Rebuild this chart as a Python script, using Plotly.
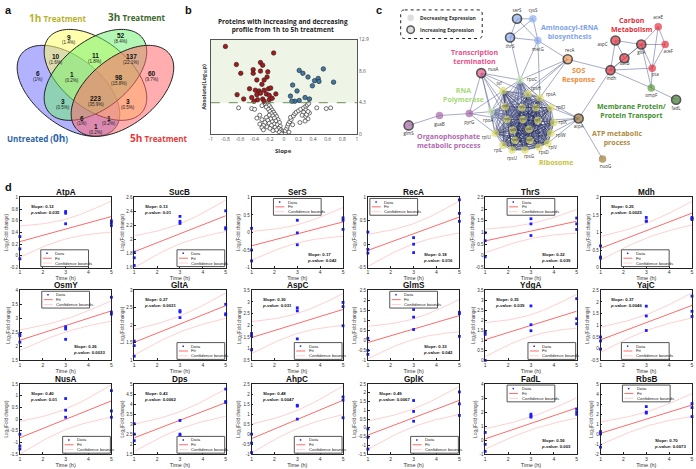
import numpy as np
import plotly.graph_objects as go
from itertools import combinations

W, H = 696, 469
FONT = "Liberation Sans"
FONT2 = "Open Sans"

def P(x):
    return x / W

def Q(y):
    return 1 - y / H

# ---------------- Panel a : Venn ----------------
venn_set_names = ["Untreated (0h)", "1h Treatment", "3h Treatment", "5h Treatment"]
venn_counts = ["9", "52", "10", "11", "137", "6", "1", "98", "60", "223", "3", "3", "6", "1", "1"]
venn_pcts = ["(1.4%)", "(8.4%)", "(1.6%)", "(1.8%)", "(22.1%)", "(1%)", "(0.2%)", "(15.8%)",
             "(9.7%)", "(35.9%)", "(0.5%)", "(0.5%)", "(1%)", "(0.2%)", "(0.2%)"]
venn_lab_x = [67.7, 120, 54.5, 94, 130, 36, 70, 118, 151, 94.3, 61, 127, 80, 108, 94.3]
venn_lab_y = [37, 35, 57, 56, 57, 74, 75, 78, 74, 99, 102, 102, 119, 119, 128]

# ---------------- Panel b : slope vs significance ----------------
red_slope = [-0.80, -0.14, -0.65, -0.32, -0.29, -0.59, -0.42, -0.42, -0.32, -0.22, -0.23, -0.37,
             -0.27, -0.30, -0.47, -0.39, -0.34, -0.27, -0.21, -0.18, -0.64, -0.37, -0.32, -0.24,
             -0.20, -0.11, -0.55, -0.44, -0.36, -0.29, -0.20, -0.41, -0.27, -0.16]
red_val = [11.96, 11.07, 9.5, 9.77, 9.4, 8.3, 8.8, 8.3, 8.6, 8.5, 7.8, 7.4, 7.4, 6.8, 6.2, 6.0,
           5.9, 6.0, 6.2, 6.3, 5.4, 5.4, 5.6, 5.5, 5.3, 5.5, 4.8, 5.0, 4.7, 4.8, 4.7, 4.5, 4.5, 4.9]
blue_slope = [0.21, 0.26, 0.54, 0.33, 0.42, 0.47, 0.48, 0.68, 0.12, 0.39, 0.18, 0.09, 0.35, 0.21,
              0.15, 0.11, 0.29]
blue_val = [8.7, 8.3, 8.9, 7.8, 7.3, 7.6, 7.2, 7.1, 6.7, 6.6, 5.9, 5.2, 4.8, 4.6, 4.5, 4.5, 5.0]
grey_slope = [-0.25, -0.22, -0.20, -0.24, -0.18, -0.21, -0.16, -0.19, -0.14, -0.17, -0.12, -0.20,
              -0.15, -0.10, -0.24, -0.13, -0.18, -0.08, -0.22, -0.11, -0.16, -0.06, -0.26, -0.20,
              -0.13, -0.09, -0.28, -0.17, -0.05, -0.23, -0.12, -0.07, -0.30, -0.19, -0.04, -0.10,
              -0.15, -0.02, -0.06, -0.01, 0.00, -0.03, 0.02, -0.62, -0.44, -0.40, -0.30, -0.33,
              -0.37, -0.30, -0.33, -0.28, 0.02, 0.04, 0.05, 0.06, 0.08, 0.10, 0.09, 0.13, 0.15,
              0.17, 0.20, 0.23, 0.27, 0.30, 0.32, 0.34, 0.30, 0.27, 0.25, 0.30, 0.33, 0.29, 0.22,
              0.12, 0.07, 0.35, 0.31, 0.45, 0.58, 0.64, 0.33]
grey_val = [4.1, 4.0, 3.9, 3.7, 3.6, 3.4, 3.3, 3.1, 3.0, 2.8, 2.7, 2.6, 2.5, 2.4, 2.3, 2.2, 2.1,
            2.0, 1.9, 1.8, 1.7, 1.6, 1.6, 1.5, 1.4, 1.3, 1.2, 1.2, 1.1, 1.0, 0.95, 0.8, 0.9, 0.8,
            0.6, 0.6, 0.5, 0.4, 0.3, 0.2, 0.1, 0.05, 0.15, 3.6, 3.5, 3.4, 3.9, 2.6, 2.2, 2.0, 1.4,
            0.6, 0.5, 0.8, 1.1, 1.4, 1.7, 2.0, 2.3, 2.5, 2.8, 3.0, 3.2, 3.4, 3.6, 3.8, 4.0, 4.2,
            3.3, 3.0, 2.6, 2.4, 2.1, 1.8, 1.6, 1.3, 0.3, 2.9, 2.7, 3.6, 3.5, 3.6, 3.1]
b_threshold = 4.3
b_xticks = [-1, -0.8, -0.6, -0.4, -0.2, 0, 0.2, 0.4, 0.6, 0.8, 1]
b_yticks = [0, 4.3, 8.6, 12.9]

# ---------------- Panel c : network ----------------
node_name = ["serS", "cysS", "thrS", "metG", "recA", "aspC", "gltA", "aceE", "aceF", "sucB", "pta",
             "mdh", "ompF", "fadL", "atpA", "nuoG", "nusA", "rpoC", "rpoA", "pyrG", "guaB", "glmS",
             "tsf", "rpsH", "rpsA", "rplO", "rplX", "rplW", "rplV", "rpsD", "rpsG", "rpsU", "rplL",
             "rplU", "rplB", "rplC", "rplD", "rpsC", "rpsE", "rplF", "rplN", "rplE", "rpsK", "rplP"]
node_x = [518, 534, 511, 539, 569, 617, 643, 660, 667, 626, 654, 612, 653, 678, 580, 604, 482, 521,
          492, 470, 440, 409, 504, 529, 541, 552, 555, 552, 549, 540, 526, 513, 504, 496, 506, 523,
          537, 508, 524, 539, 514, 530, 516, 531]
node_y = [16, 16, 35, 38, 57, 38, 42, 24, 42, 56, 66, 68, 86, 98, 117, 158, 71, 78, 110, 112, 114,
          124, 89, 92, 96, 106, 121, 132, 142, 146, 149, 149, 144, 132, 105, 106, 106, 118, 118,
          119, 129, 128, 139, 139]
node_group = ["aa", "aa", "aa", "aa", "sos", "carb", "carb", "carb", "carb", "carb", "carb", "carb",
              "mem", "mem2", "atp", "atp", "tt", "rnap", "rnap", "org", "org", "org"] + ["rib"] * 22
node_up = [1, 0, 1, 0, 1, 1, 1, 0, 0, 1, 0, 1, 0, 1, 1, 0, 1, 0, 0, 0, 0, 1] + [0] * 22
lab_x = [518, 534, 511, 539, 571, 604, 643, 660, 670, 626, 657, 613, 653, 678, 580, 607, 494, 533,
         489, 470, 440, 409, 500, 537, 552, 562, 564, 562, 554, 545, 530, 513, 499, 487, 506, 523,
         537, 508, 524, 539, 514, 530, 516, 531]
lab_y = [7.5, 7.5, 44, 47, 48, 42, 51, 15, 50, 62, 73, 77, 94, 107, 125, 166, 68, 78, 119, 121,
         123, 133, 82, 87, 93, 106, 121, 135, 147, 152, 156, 158, 150, 137, 105, 106, 106, 118, 118,
         119, 129, 128, 139, 139]
net_edges = [("serS", "cysS"), ("serS", "thrS"), ("serS", "metG"), ("cysS", "metG"), ("cysS", "thrS"),
             ("thrS", "metG"), ("thrS", "rpoC"), ("metG", "rpoC"), ("metG", "recA"), ("metG", "rpsA"),
             ("recA", "rpoC"), ("recA", "mdh"), ("recA", "rpsA"), ("recA", "rpsH"), ("recA", "rplB"),
             ("mdh", "sucB"), ("mdh", "gltA"), ("mdh", "aspC"), ("mdh", "pta"), ("mdh", "ompF"),
             ("aspC", "gltA"), ("aspC", "sucB"), ("gltA", "sucB"), ("gltA", "aceE"), ("gltA", "aceF"),
             ("gltA", "pta"), ("aceE", "aceF"), ("aceE", "pta"), ("aceF", "pta"), ("pta", "ompF"),
             ("gltA", "ompF"), ("ompF", "fadL"), ("mdh", "atpA"), ("atpA", "nuoG"), ("atpA", "rplO"),
             ("atpA", "rplX"), ("atpA", "rplW"), ("atpA", "rpsA"), ("atpA", "rplV"), ("atpA", "rplF"),
             ("nusA", "rpoC"), ("nusA", "tsf"), ("nusA", "rpoA"), ("nusA", "rplU"), ("nusA", "rplB"),
             ("nusA", "rpsC"), ("nusA", "rpsA"), ("pyrG", "guaB"), ("guaB", "glmS"), ("pyrG", "rpoA"),
             ("pyrG", "tsf"), ("pyrG", "rplU"), ("pyrG", "nusA"), ("pyrG", "rpsC"), ("rpoC", "rpoA")]
group_color = {"aa": "#8eaef0", "sos": "#f59a52", "carb": "#e6323e", "mem": "#5d9a3c",
               "mem2": "#3d7a2a", "atp": "#a07a3a", "tt": "#e8578a", "rnap": "#c8e8b4",
               "org": "#a866a8", "rib": "#dede6c"}
group_label = ["Aminoacyl-tRNA<br>biosynthesis", "Carbon<br>Metabolism", "Transcription<br>termination",
               "SOS<br>Response", "RNA<br>Polymerase", "Membrane Protein/<br>Protein Transport",
               "ATP metabolic<br>process", "Organophosphate<br>metabolic process", "Ribosome"]
group_label_x = [571, 634, 475, 580, 464, 633, 619, 450, 557]
group_label_y = [29, 22, 55, 73, 93, 109, 137, 140, 162]
group_label_color = ["#7fa3e8", "#e0303c", "#e8508a", "#f08a3c", "#a8d878", "#3f8f2f", "#b08a40",
                     "#b06ab0", "#c8c23c"]

# ---------------- Panel d : time courses ----------------
genes = ["AtpA", "SucB", "SerS", "RecA", "ThrS", "Mdh", "OsmY", "GltA", "AspC", "GlmS", "YdgA",
         "YajC", "NusA", "Dps", "AhpC", "GplK", "FadL", "RbsB"]
slope_txt = ["0.12", "0.13", "0.17", "0.18", "0.22", "0.25", "0.26", "0.27", "0.30", "0.33", "0.35",
             "0.37", "0.40", "0.43", "0.48", "0.49", "0.56", "0.70"]
pval_txt = ["0.035", "0.01", "0.042", "0.016", "0.039", "0.0025", "0.0033", "0.0031", "0.031", "0.042",
            "0.039", "0.0046", "0.01", "0.0062", "0.0047", "0.0067", "0.003", "0.0073"]
time_h = [1, 1, 1, 3, 3, 3, 5, 5, 5]
fc_atpa = [0.33, 0.12, -0.05, 0.76, 0.73, 0.55, 0.60, 0.57, 0.52]
fc_sucb = [1.82, 1.74, 1.63, 2.33, 2.26, 2.23, 2.41, 2.17, 2.15]
fc_sers = [0.12, -0.50, -0.81, 0.35, -0.01, -0.35, 0.42, 0.35, 0.09]
fc_reca = [0.26, -0.11, -0.19, 0.14, 0.00, -0.18, 0.95, 0.66, 0.49]
fc_thrs = [0.99, 0.65, -0.04, 1.59, 1.37, 0.87, 1.62, 1.37, 1.13]
fc_mdh = [0.62, 0.30, 0.27, 1.43, 1.33, 1.32, 1.43, 1.40, 1.37]
fc_osmy = [2.45, 2.38, 2.15, 2.70, 2.62, 2.25, 3.75, 3.22, 3.15]
fc_glta = [1.55, 1.42, 1.12, 2.42, 2.38, 2.22, 2.60, 2.33, 2.30]
fc_aspc = [1.65, 1.55, 0.95, 2.75, 2.62, 1.42, 2.98, 2.80, 1.98]
fc_glms = [0.10, -0.50, -0.70, 1.54, 1.16, 0.54, 1.40, 1.33, 0.20]
fc_ydga = [1.43, 1.30, 0.00, 2.72, 1.78, 1.48, 3.08, 2.08, 1.83]
fc_yajc = [0.50, 0.33, -0.02, 1.82, 1.40, 0.78, 2.25, 1.60, 1.38]
fc_nusa = [-0.65, -1.15, -1.28, 0.88, 0.38, 0.08, 1.22, 0.35, 0.08]
fc_dps = [3.02, 2.50, 2.17, 3.18, 2.50, 2.42, 4.75, 4.13, 4.08]
fc_ahpc = [0.00, -0.45, -0.92, 1.44, 1.40, 0.75, 1.86, 1.70, 0.82]
fc_gplk = [-0.06, -0.54, -1.21, 1.56, 0.94, 0.38, 2.05, 1.37, 0.71]
fc_fadl = [0.55, -0.30, -0.80, 1.85, 1.72, 1.64, 2.22, 2.02, 1.84]
fc_rbsb = [0.25, 0.02, -1.30, 2.75, 2.20, 2.10, 3.05, 2.65, 1.75]
fc_all = [fc_atpa, fc_sucb, fc_sers, fc_reca, fc_thrs, fc_mdh, fc_osmy, fc_glta, fc_aspc, fc_glms,
          fc_ydga, fc_yajc, fc_nusa, fc_dps, fc_ahpc, fc_gplk, fc_fadl, fc_rbsb]
y_min = [-0.2, 1.6, -1, -0.5, -0.5, 0, 1.5, 1, 0.5, -1, 0, -0.5, -1.5, 1.5, -1, -1.5, -1, -2]
y_max = [1, 2.6, 1, 1, 2.5, 2, 4, 3, 3.5, 2.5, 3.5, 2.5, 1.5, 5, 2.5, 2.5, 4, 5]
y_step = [0.2, 0.2, 0.5, 0.5, 0.5, 0.5, 0.5, 0.5, 0.5, 0.5, 0.5, 0.5, 0.5, 0.5, 0.5, 0.5, 1, 1]
legend_pos = ["B", "BR", "T", "TL", "T", "B", "T", "BR", "BR", "T", "BR", "B", "BR", "BR", "BR",
              "BR", "T", "T"]
stat_pos = ["TL", "TL", "BR", "BR", "BR", "TL", "BR", "TL", "TL", "BR", "TL", "TL", "TL", "TL",
            "TL", "TL", "BR", "BR"]
time_ticks = [1, 2, 3, 4, 5]

# panel geometry (pixels)
col_left = [18, 133, 251, 368, 486, 602]
col_w = 92
row_top = [197, 291, 386]
row_h = 71


def fmt(v):
    s = ("%.2f" % v).rstrip("0").rstrip(".")
    if s == "-0":
        s = "0"
    return s


fig = go.Figure()
shapes = []
annots = []
lay = {}


def note(x, y, text, size, color, family=FONT, xa="center", ya="middle", **kw):
    # x, y in pixels from the top-left corner
    annots.append(dict(x=P(x), y=Q(y), xref="paper", yref="paper", text=text, showarrow=False,
                       xanchor=xa, yanchor=ya, font=dict(family=family, size=size, color=color), **kw))


# overlay pixel axes for panels a and c
lay["xaxis20"] = dict(domain=[0, 1], range=[0, W], visible=False, fixedrange=True, anchor="y20")
lay["yaxis20"] = dict(domain=[0, 1], range=[H, 0], visible=False, fixedrange=True, anchor="x20")
OV = dict(xaxis="x20", yaxis="y20")

# ---------- panel a ----------
VX0, VSX, VY0, VSY = 94.0, 181.0, 72.8, 161.6


def ellipse_path(cx, cy, a, b, ang):
    t = np.linspace(0, 2 * np.pi, 120)
    ca, sa = np.cos(np.radians(ang)), np.sin(np.radians(ang))
    u = cx + a * np.cos(t) * ca - b * np.sin(t) * sa
    v = cy + a * np.cos(t) * sa + b * np.sin(t) * ca
    X = VX0 + (u - 0.5) * VSX
    Y = VY0 - (v - 0.57) * VSY
    return "M " + " L ".join("%.2f,%.2f" % (x, y) for x, y in zip(X, Y)) + " Z"


ell_specs = [(0.35, 0.47, -45, "rgba(115,115,255,0.55)"),
             (0.50, 0.57, -45, "rgba(255,255,105,0.55)"),
             (0.50, 0.57, 45, "rgba(105,240,105,0.50)"),
             (0.65, 0.47, 45, "rgba(255,105,110,0.55)")]
for cx, cy, ang, col in ell_specs:
    shapes.append(dict(type="path", xref="x20", yref="y20", path=ellipse_path(cx, cy, 0.35, 0.2, ang),
                       fillcolor=col, line=dict(color="#222", width=1), layer="above"))
for c, p, x, y in zip(venn_counts, venn_pcts, venn_lab_x, venn_lab_y):
    note(x, y - 2.5, "<b>%s</b>" % c, 6.5, "#111")
    note(x, y + 3.5, p, 4.5, "#222")
set_title_x = [36, 56, 136, 158]
set_title_y = [137, 15, 14, 137]
set_title_col = ["#2b62a8", "#b9b22c", "#3c6a2c", "#e33b3b"]
set_title_txt = ["<b>Untreated (<span style='font-size:10px'>0h</span>)</b>",
                 "<b><span style='font-size:10px'>1h</span> Treatment</b>",
                 "<b><span style='font-size:10px'>3h</span> Treatment</b>",
                 "<b><span style='font-size:10px'>5h</span> Treatment</b>"]
for x, y, c, t in zip(set_title_x, set_title_y, set_title_col, set_title_txt):
    note(x, y, t, 8, c, family=FONT2)

# panel letters
for lt, x, y in [("a", 7, 7), ("b", 188, 7), ("c", 379, 7), ("d", 7, 186)]:
    note(x, y, "<b>%s</b>" % lt, 11, "#111")

# ---------- panel b ----------
bx0, bx1, by0, by1 = 210, 357, 37, 133
lay["xaxis19"] = dict(domain=[P(bx0), P(bx1)], range=[-1, 1], anchor="y19", tickvals=b_xticks,
                      ticktext=[fmt(v) for v in b_xticks], showline=True, mirror=True,
                      linecolor="#555", linewidth=1, ticks="", showgrid=False, zeroline=False,
                      tickfont=dict(family=FONT2, size=5, color="#555"), fixedrange=True)
lay["yaxis19"] = dict(domain=[Q(by1), Q(by0)], range=[0, 12.9], anchor="x19", side="right",
                      tickvals=b_yticks, ticktext=[fmt(v) for v in b_yticks], showline=True,
                      mirror=True, linecolor="#555", linewidth=1, ticks="", showgrid=False,
                      zeroline=False, tickfont=dict(family=FONT2, size=5, color="#555"),
                      fixedrange=True)
shapes.append(dict(type="rect", xref="x19", yref="y19", x0=-1, x1=1, y0=b_threshold, y1=12.9,
                   fillcolor="#eef5e6", line=dict(width=0), layer="below"))
shapes.append(dict(type="line", xref="x19", yref="y19", x0=-1, x1=1, y0=b_threshold, y1=b_threshold,
                   line=dict(color="#6b8b5a", width=1, dash="dash"), layer="above"))
fig.add_trace(go.Scatter(x=grey_slope, y=grey_val, mode="markers", xaxis="x19", yaxis="y19",
                         marker=dict(size=4, color="white", line=dict(color="#333", width=0.7))))
fig.add_trace(go.Scatter(x=red_slope, y=red_val, mode="markers", xaxis="x19", yaxis="y19",
                         marker=dict(size=4.5, color="#a8191c", line=dict(color="#222", width=0.6))))
fig.add_trace(go.Scatter(x=blue_slope, y=blue_val, mode="markers", xaxis="x19", yaxis="y19",
                         marker=dict(size=4.5, color="#3d7aa8", line=dict(color="#222", width=0.6))))
note(283, 23, "<b>Proteins with increasing and decreasing<br>profile from 1h to 5h treatment</b>",
     6.5, "#222", family=FONT2)
note(283, 150, "<b>Slope</b>", 6, "#333", family=FONT2)
note(203, 85, "<b>Absolute(Log<sub>10</sub>p)</b>", 5.5, "#333", family=FONT2, textangle=-90)

# ---------- panel c ----------
idx = {n: i for i, n in enumerate(node_name)}
rib_nodes = [n for n, g in zip(node_name, node_group) if g == "rib"]
ex, ey = [], []
for a, b in combinations(rib_nodes, 2):
    ex += [node_x[idx[a]], node_x[idx[b]], None]
    ey += [node_y[idx[a]], node_y[idx[b]], None]
fig.add_trace(go.Scatter(x=ex, y=ey, mode="lines", line=dict(color="rgba(30,38,90,0.75)", width=0.6),
                         hoverinfo="skip", **OV))
ex, ey = [], []
for a, b in net_edges:
    ex += [node_x[idx[a]], node_x[idx[b]], None]
    ey += [node_y[idx[a]], node_y[idx[b]], None]
for n in ["rpoC", "rpoA"]:
    for r in rib_nodes:
        ex += [node_x[idx[n]], node_x[idx[r]], None]
        ey += [node_y[idx[n]], node_y[idx[r]], None]
fig.add_trace(go.Scatter(x=ex, y=ey, mode="lines", line=dict(color="rgba(95,105,150,0.8)", width=0.7),
                         hoverinfo="skip", **OV))
fig.add_trace(go.Scatter(
    x=node_x, y=node_y, mode="markers", **OV,
    marker=dict(size=[9 if u else 7.5 for u in node_up], color=[group_color[g] for g in node_group],
                line=dict(color=["#111" if u else "rgba(0,0,0,0)" for u in node_up],
                          width=[1.6 if u else 0 for u in node_up]))))
fig.add_trace(go.Scatter(x=lab_x, y=lab_y, mode="text", text=node_name, **OV,
                         textfont=dict(family=FONT2, size=[4.5] * 34 + [3.2] * 10, color="#333")))
for t, x, y, c in zip(group_label, group_label_x, group_label_y, group_label_color):
    note(x, y, "<b>%s</b>" % t, 7, c, family=FONT2)
# network legend box
lx0, ly0, lx1, ly1, r = 401, 7, 483, 36, 4
shapes.append(dict(type="path", xref="x20", yref="y20", layer="above",
                   path=("M %g,%g L %g,%g Q %g,%g %g,%g L %g,%g Q %g,%g %g,%g L %g,%g Q %g,%g %g,%g "
                         "L %g,%g Q %g,%g %g,%g Z") % (lx0 + r, ly0, lx1 - r, ly0, lx1, ly0, lx1, ly0 + r,
                                                     lx1, ly1 - r, lx1, ly1, lx1 - r, ly1, lx0 + r, ly1,
                                                     lx0, ly1, lx0, ly1 - r, lx0, ly0 + r, lx0, ly0,
                                                     lx0 + r, ly0),
                   line=dict(color="#222", width=1, dash="dot"), fillcolor="rgba(0,0,0,0)"))
fig.add_trace(go.Scatter(x=[411, 411], y=[15, 27], mode="markers", **OV,
                         marker=dict(size=[6.5, 7.5], color="#cfcfcf",
                                     line=dict(color=["rgba(0,0,0,0)", "#111"], width=[0, 1.5]))))
for t, y in [("Decreasing Expression", 15), ("Increasing Expression", 27)]:
    note(418, y, "<b>%s</b>" % t, 5, "#333", family=FONT2, xa="left")

# ---------- panel d ----------
for i in range(18):
    r, c = divmod(i, 6)
    L, T = col_left[c], row_top[r]
    R, B = L + col_w, T + row_h
    k = "" if i == 0 else str(i + 1)
    ticks = list(np.round(np.arange(y_min[i], y_max[i] + 1e-9, y_step[i]), 3))
    lay["xaxis" + k] = dict(domain=[P(L), P(R)], range=[1, 5], anchor="y" + k, tickvals=time_ticks,
                            ticktext=[str(v) for v in time_ticks], showline=True, mirror=True,
                            linecolor="#222", linewidth=0.8, ticks="inside", ticklen=2, tickwidth=0.6,
                            tickcolor="#222", showgrid=False, zeroline=False,
                            tickfont=dict(family=FONT, size=5, color="#333"),
                            title=dict(text="Time (h)", font=dict(family=FONT, size=5.5, color="#333"),
                                       standoff=0), fixedrange=True)
    lay["yaxis" + k] = dict(domain=[Q(B), Q(T)], range=[y_min[i], y_max[i]], anchor="x" + k,
                            tickvals=ticks, ticktext=[fmt(v) for v in ticks], showline=True,
                            mirror=True, linecolor="#222", linewidth=0.8, ticks="inside", ticklen=2,
                            tickwidth=0.6, tickcolor="#222", showgrid=False, zeroline=False,
                            tickfont=dict(family=FONT, size=4.5, color="#333"),
                            title=dict(text="Log<sub>2</sub>(Fold change)",
                                       font=dict(family=FONT, size=4.5, color="#444"), standoff=1),
                            fixedrange=True)
    t = np.array(time_h, float)
    y = np.array(fc_all[i], float)
    n = len(t)
    slope, icpt = np.polyfit(t, y, 1)
    res = y - (icpt + slope * t)
    s = np.sqrt((res ** 2).sum() / (n - 2))
    tq = 2.3646
    xs = np.linspace(1, 5, 41)
    se = s * np.sqrt(1.0 / n + (xs - t.mean()) ** 2 / ((t - t.mean()) ** 2).sum())
    yf = icpt + slope * xs
    ax = dict(xaxis="x" + k, yaxis="y" + k)
    for yy in (yf + tq * se, yf - tq * se):
        fig.add_trace(go.Scatter(x=xs, y=yy, mode="lines", line=dict(color="#ffc4c4", width=0.8),
                                 hoverinfo="skip", **ax))
    fig.add_trace(go.Scatter(x=[1, 5], y=[icpt + slope, icpt + 5 * slope], mode="lines",
                             line=dict(color="#ff6a6a", width=1), **ax))
    fig.add_trace(go.Scatter(x=time_h, y=fc_all[i], mode="markers", cliponaxis=False,
                             marker=dict(size=2.8, color="#1c1cff", symbol="square"), **ax))
    # title
    note((L + R) / 2, T + 1.5, "<b>%s</b>" % genes[i], 8.2, "#111", ya="bottom")
    # stats text
    st = "<b>Slope: %s<br><i>p</i>-value: %s</b>" % (slope_txt[i], pval_txt[i])
    if stat_pos[i] == "TL":
        note(L + 8, T + 5, st, 4.3, "#111", xa="left", ya="top", align="left")
    else:
        note(R - 4, B - 3, st, 4.3, "#111", xa="right", ya="bottom", align="left")
    # legend box
    lw, lh = 48, 17
    if legend_pos[i] == "T":
        gx, gy = L + 22, T + 1
    elif legend_pos[i] == "TL":
        gx, gy = L + 2, T + 1
    elif legend_pos[i] == "B":
        gx, gy = L + 21, B - lh - 1
    else:
        gx, gy = R - lw - 1, B - lh - 1
    shapes.append(dict(type="rect", xref="paper", yref="paper", x0=P(gx), x1=P(gx + lw), y0=Q(gy),
                       y1=Q(gy + lh), line=dict(color="#555", width=1), fillcolor="white",
                       layer="above"))
    rows = [gy + 3.6, gy + 8.5, gy + 13.4]
    shapes.append(dict(type="rect", xref="paper", yref="paper", x0=P(gx + 5.5), x1=P(gx + 7),
                       y0=Q(rows[0] - 0.75), y1=Q(rows[0] + 0.75), line=dict(width=0),
                       fillcolor="#1c1cff", layer="above"))
    shapes.append(dict(type="line", xref="paper", yref="paper", x0=P(gx + 2), x1=P(gx + 11),
                       y0=Q(rows[1]), y1=Q(rows[1]), line=dict(color="#ff6a6a", width=1),
                       layer="above"))
    shapes.append(dict(type="line", xref="paper", yref="paper", x0=P(gx + 2), x1=P(gx + 11),
                       y0=Q(rows[2]), y1=Q(rows[2]), line=dict(color="#ffc4c4", width=0.8),
                       layer="above"))
    for txt, yy in zip(["Data", "Fit", "Confidence bounds"], rows):
        note(gx + 12.5, yy, txt, 4.3, "#222", xa="left")

fig.update_layout(width=W, height=H, margin=dict(l=0, r=0, t=0, b=0), showlegend=False,
                  paper_bgcolor="white", plot_bgcolor="rgba(0,0,0,0)", shapes=shapes,
                  annotations=annots, **lay)
fig.write_html("out.html", config={"displayModeBar": False},
               post_script="document.body.style.margin='0';document.body.style.padding='0';")
